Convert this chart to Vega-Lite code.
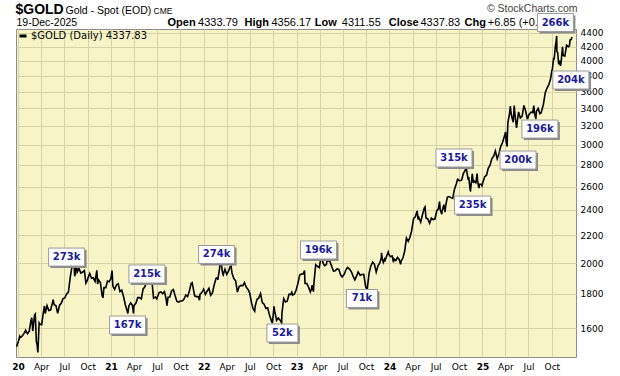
{
  "$schema": "https://vega.github.io/schema/vega-lite/v6.json",
  "width": 560,
  "height": 328,
  "autosize": "none",
  "padding": {"left": 16, "top": 29, "right": 44, "bottom": 19},
  "background": "white",
  "config": {
    "view": {"fill": "#f7f5c8", "stroke": "#8c8c8c", "strokeWidth": 1},
    "font": "DejaVu Sans"
  },
  "datasets": {
    "gold": [
      {"d":"2019-12-26","p":1502},{"d":"2020-01-02","p":1528},{"d":"2020-01-08","p":1556},{"d":"2020-01-10","p":1550},{"d":"2020-01-17","p":1557},{"d":"2020-01-24","p":1571},{"d":"2020-01-31","p":1589},
      {"d":"2020-02-07","p":1570},{"d":"2020-02-14","p":1584},{"d":"2020-02-21","p":1643},{"d":"2020-02-24","p":1659},{"d":"2020-02-28","p":1585},
      {"d":"2020-03-06","p":1674},{"d":"2020-03-09","p":1680},{"d":"2020-03-13","p":1530},{"d":"2020-03-16","p":1513},{"d":"2020-03-19","p":1473},{"d":"2020-03-20","p":1498},{"d":"2020-03-24","p":1630},{"d":"2020-03-27","p":1623},
      {"d":"2020-04-03","p":1620},{"d":"2020-04-09","p":1683},{"d":"2020-04-14","p":1727},{"d":"2020-04-17","p":1683},{"d":"2020-04-24","p":1729},{"d":"2020-05-01","p":1700},
      {"d":"2020-05-08","p":1703},{"d":"2020-05-15","p":1743},{"d":"2020-05-18","p":1765},{"d":"2020-05-22","p":1735},{"d":"2020-05-29","p":1730},
      {"d":"2020-06-05","p":1684},{"d":"2020-06-12","p":1730},{"d":"2020-06-19","p":1743},{"d":"2020-06-26","p":1771},
      {"d":"2020-07-03","p":1775},{"d":"2020-07-10","p":1799},{"d":"2020-07-17","p":1810},{"d":"2020-07-24","p":1902},{"d":"2020-07-31","p":1975},
      {"d":"2020-08-06","p":2063},{"d":"2020-08-07","p":2035},{"d":"2020-08-11","p":1912},{"d":"2020-08-14","p":1944},{"d":"2020-08-18","p":2013},{"d":"2020-08-21","p":1940},{"d":"2020-08-28","p":1964},
      {"d":"2020-09-04","p":1933},{"d":"2020-09-11","p":1940},{"d":"2020-09-18","p":1950},{"d":"2020-09-24","p":1868},{"d":"2020-09-30","p":1887},
      {"d":"2020-10-02","p":1900},{"d":"2020-10-09","p":1930},{"d":"2020-10-16","p":1899},{"d":"2020-10-23","p":1902},{"d":"2020-10-30","p":1879},
      {"d":"2020-11-06","p":1951},{"d":"2020-11-09","p":1862},{"d":"2020-11-13","p":1888},{"d":"2020-11-20","p":1871},{"d":"2020-11-27","p":1788},{"d":"2020-11-30","p":1776},
      {"d":"2020-12-04","p":1839},{"d":"2020-12-11","p":1839},{"d":"2020-12-18","p":1881},{"d":"2020-12-24","p":1877},{"d":"2020-12-31","p":1895},
      {"d":"2021-01-05","p":1950},{"d":"2021-01-08","p":1849},{"d":"2021-01-15","p":1828},{"d":"2021-01-22","p":1856},{"d":"2021-01-29","p":1863},
      {"d":"2021-02-05","p":1814},{"d":"2021-02-12","p":1823},{"d":"2021-02-19","p":1784},{"d":"2021-02-26","p":1734},
      {"d":"2021-03-05","p":1700},{"d":"2021-03-08","p":1683},{"d":"2021-03-12","p":1727},{"d":"2021-03-19","p":1745},{"d":"2021-03-26","p":1732},{"d":"2021-03-30","p":1684},
      {"d":"2021-04-01","p":1728},{"d":"2021-04-09","p":1744},{"d":"2021-04-16","p":1777},{"d":"2021-04-23","p":1777},{"d":"2021-04-30","p":1769},
      {"d":"2021-05-07","p":1831},{"d":"2021-05-14","p":1844},{"d":"2021-05-21","p":1881},{"d":"2021-05-28","p":1905},
      {"d":"2021-06-04","p":1892},{"d":"2021-06-11","p":1877},{"d":"2021-06-17","p":1774},{"d":"2021-06-25","p":1781},{"d":"2021-06-30","p":1770},
      {"d":"2021-07-09","p":1808},{"d":"2021-07-16","p":1812},{"d":"2021-07-23","p":1802},{"d":"2021-07-30","p":1814},
      {"d":"2021-08-06","p":1763},{"d":"2021-08-09","p":1729},{"d":"2021-08-13","p":1780},{"d":"2021-08-20","p":1781},{"d":"2021-08-27","p":1818},
      {"d":"2021-09-03","p":1827},{"d":"2021-09-10","p":1788},{"d":"2021-09-17","p":1754},{"d":"2021-09-24","p":1750},{"d":"2021-09-30","p":1757},
      {"d":"2021-10-08","p":1757},{"d":"2021-10-15","p":1768},{"d":"2021-10-22","p":1793},{"d":"2021-10-29","p":1783},
      {"d":"2021-11-05","p":1818},{"d":"2021-11-12","p":1865},{"d":"2021-11-16","p":1870},{"d":"2021-11-19","p":1845},{"d":"2021-11-26","p":1788},
      {"d":"2021-12-03","p":1783},{"d":"2021-12-10","p":1783},{"d":"2021-12-15","p":1762},{"d":"2021-12-17","p":1798},{"d":"2021-12-24","p":1808},{"d":"2021-12-31","p":1829},
      {"d":"2022-01-07","p":1797},{"d":"2022-01-14","p":1817},{"d":"2022-01-21","p":1835},{"d":"2022-01-28","p":1791},
      {"d":"2022-02-04","p":1807},{"d":"2022-02-11","p":1859},{"d":"2022-02-18","p":1898},{"d":"2022-02-24","p":1903},{"d":"2022-02-25","p":1889},
      {"d":"2022-03-04","p":1966},{"d":"2022-03-08","p":2050},{"d":"2022-03-11","p":1988},{"d":"2022-03-16","p":1929},{"d":"2022-03-18","p":1921},{"d":"2022-03-25","p":1958},
      {"d":"2022-04-01","p":1925},{"d":"2022-04-08","p":1946},{"d":"2022-04-14","p":1974},{"d":"2022-04-18","p":1979},{"d":"2022-04-22","p":1931},{"d":"2022-04-29","p":1897},
      {"d":"2022-05-06","p":1883},{"d":"2022-05-13","p":1811},{"d":"2022-05-20","p":1846},{"d":"2022-05-27","p":1853},
      {"d":"2022-06-03","p":1851},{"d":"2022-06-10","p":1871},{"d":"2022-06-17","p":1840},{"d":"2022-06-24","p":1827},{"d":"2022-06-30","p":1807},
      {"d":"2022-07-08","p":1742},{"d":"2022-07-14","p":1709},{"d":"2022-07-20","p":1696},{"d":"2022-07-22","p":1727},{"d":"2022-07-29","p":1766},
      {"d":"2022-08-05","p":1775},{"d":"2022-08-12","p":1802},{"d":"2022-08-19","p":1747},{"d":"2022-08-26","p":1737},
      {"d":"2022-09-02","p":1712},{"d":"2022-09-09","p":1716},{"d":"2022-09-16","p":1675},{"d":"2022-09-23","p":1644},{"d":"2022-09-27","p":1629},{"d":"2022-09-30","p":1661},
      {"d":"2022-10-04","p":1725},{"d":"2022-10-07","p":1695},{"d":"2022-10-14","p":1644},{"d":"2022-10-21","p":1657},{"d":"2022-10-28","p":1645},
      {"d":"2022-11-03","p":1630},{"d":"2022-11-04","p":1681},{"d":"2022-11-11","p":1771},{"d":"2022-11-18","p":1751},{"d":"2022-11-25","p":1755},
      {"d":"2022-12-02","p":1797},{"d":"2022-12-09","p":1797},{"d":"2022-12-13","p":1810},{"d":"2022-12-16","p":1793},{"d":"2022-12-23","p":1798},{"d":"2022-12-30","p":1824},
      {"d":"2023-01-06","p":1865},{"d":"2023-01-13","p":1920},{"d":"2023-01-20","p":1926},{"d":"2023-01-27","p":1928},{"d":"2023-02-01","p":1950},{"d":"2023-02-03","p":1865},
      {"d":"2023-02-10","p":1865},{"d":"2023-02-17","p":1842},{"d":"2023-02-24","p":1811},{"d":"2023-02-28","p":1827},
      {"d":"2023-03-03","p":1855},{"d":"2023-03-08","p":1814},{"d":"2023-03-10","p":1868},{"d":"2023-03-17","p":1989},{"d":"2023-03-24","p":1978},{"d":"2023-03-31","p":1969},
      {"d":"2023-04-05","p":2021},{"d":"2023-04-13","p":2040},{"d":"2023-04-14","p":2004},{"d":"2023-04-21","p":1983},{"d":"2023-04-28","p":1990},
      {"d":"2023-05-03","p":2039},{"d":"2023-05-05","p":2017},{"d":"2023-05-12","p":2011},{"d":"2023-05-19","p":1977},{"d":"2023-05-26","p":1946},
      {"d":"2023-06-02","p":1948},{"d":"2023-06-09","p":1961},{"d":"2023-06-16","p":1958},{"d":"2023-06-23","p":1921},{"d":"2023-06-29","p":1908},
      {"d":"2023-07-07","p":1925},{"d":"2023-07-14","p":1955},{"d":"2023-07-20","p":1970},{"d":"2023-07-28","p":1959},
      {"d":"2023-08-04","p":1943},{"d":"2023-08-11","p":1913},{"d":"2023-08-18","p":1889},{"d":"2023-08-25","p":1914},{"d":"2023-08-31","p":1940},
      {"d":"2023-09-08","p":1919},{"d":"2023-09-15","p":1924},{"d":"2023-09-22","p":1925},{"d":"2023-09-29","p":1849},
      {"d":"2023-10-05","p":1820},{"d":"2023-10-06","p":1833},{"d":"2023-10-13","p":1932},{"d":"2023-10-20","p":1981},{"d":"2023-10-27","p":2006},
      {"d":"2023-11-03","p":1992},{"d":"2023-11-10","p":1940},{"d":"2023-11-17","p":1981},{"d":"2023-11-24","p":2001},{"d":"2023-11-30","p":2036},
      {"d":"2023-12-01","p":2072},{"d":"2023-12-04","p":2029},{"d":"2023-12-08","p":2004},{"d":"2023-12-13","p":2027},{"d":"2023-12-15","p":2019},{"d":"2023-12-22","p":2053},{"d":"2023-12-27","p":2077},{"d":"2023-12-29","p":2063},
      {"d":"2024-01-05","p":2045},{"d":"2024-01-12","p":2049},{"d":"2024-01-17","p":2006},{"d":"2024-01-19","p":2029},{"d":"2024-01-26","p":2018},
      {"d":"2024-02-02","p":2039},{"d":"2024-02-09","p":2024},{"d":"2024-02-14","p":1992},{"d":"2024-02-16","p":2013},{"d":"2024-02-23","p":2035},
      {"d":"2024-03-01","p":2083},{"d":"2024-03-08","p":2179},{"d":"2024-03-15","p":2155},{"d":"2024-03-21","p":2181},{"d":"2024-03-28","p":2230},
      {"d":"2024-04-05","p":2330},{"d":"2024-04-12","p":2344},{"d":"2024-04-19","p":2392},{"d":"2024-04-23","p":2322},{"d":"2024-04-26","p":2337},
      {"d":"2024-05-03","p":2301},{"d":"2024-05-10","p":2360},{"d":"2024-05-17","p":2415},{"d":"2024-05-20","p":2425},{"d":"2024-05-24","p":2334},{"d":"2024-05-31","p":2327},
      {"d":"2024-06-07","p":2293},{"d":"2024-06-14","p":2333},{"d":"2024-06-21","p":2321},{"d":"2024-06-28","p":2326},
      {"d":"2024-07-05","p":2391},{"d":"2024-07-12","p":2411},{"d":"2024-07-16","p":2469},{"d":"2024-07-19","p":2400},{"d":"2024-07-25","p":2365},{"d":"2024-07-26","p":2387},
      {"d":"2024-08-02","p":2443},{"d":"2024-08-07","p":2382},{"d":"2024-08-09","p":2431},{"d":"2024-08-16","p":2507},{"d":"2024-08-23","p":2512},{"d":"2024-08-30","p":2503},
      {"d":"2024-09-06","p":2497},{"d":"2024-09-13","p":2577},{"d":"2024-09-20","p":2622},{"d":"2024-09-26","p":2672},{"d":"2024-09-27","p":2658},
      {"d":"2024-10-04","p":2653},{"d":"2024-10-11","p":2657},{"d":"2024-10-18","p":2721},{"d":"2024-10-25","p":2747},{"d":"2024-10-30","p":2788},{"d":"2024-10-31","p":2743},
      {"d":"2024-11-06","p":2659},{"d":"2024-11-08","p":2685},{"d":"2024-11-14","p":2565},{"d":"2024-11-15","p":2563},{"d":"2024-11-22","p":2715},{"d":"2024-11-26","p":2633},{"d":"2024-11-29","p":2650},
      {"d":"2024-12-06","p":2633},{"d":"2024-12-11","p":2718},{"d":"2024-12-13","p":2648},{"d":"2024-12-18","p":2586},{"d":"2024-12-20","p":2622},{"d":"2024-12-27","p":2621},{"d":"2024-12-30","p":2606},
      {"d":"2025-01-03","p":2640},{"d":"2025-01-10","p":2689},{"d":"2025-01-17","p":2703},{"d":"2025-01-24","p":2770},{"d":"2025-01-31","p":2798},
      {"d":"2025-02-07","p":2861},{"d":"2025-02-14","p":2883},{"d":"2025-02-21","p":2936},{"d":"2025-02-28","p":2858},
      {"d":"2025-03-07","p":2910},{"d":"2025-03-14","p":2984},{"d":"2025-03-21","p":3023},{"d":"2025-03-28","p":3085},{"d":"2025-04-02","p":3134},
      {"d":"2025-04-04","p":3037},{"d":"2025-04-08","p":2982},{"d":"2025-04-09","p":3083},{"d":"2025-04-11","p":3237},{"d":"2025-04-17","p":3327},{"d":"2025-04-21","p":3424},{"d":"2025-04-22","p":3381},{"d":"2025-04-25","p":3319},
      {"d":"2025-05-02","p":3240},{"d":"2025-05-06","p":3431},{"d":"2025-05-09","p":3325},{"d":"2025-05-15","p":3179},{"d":"2025-05-16","p":3203},{"d":"2025-05-23","p":3357},{"d":"2025-05-30","p":3289},
      {"d":"2025-06-06","p":3310},{"d":"2025-06-13","p":3432},{"d":"2025-06-20","p":3368},{"d":"2025-06-27","p":3274},{"d":"2025-06-30","p":3303},
      {"d":"2025-07-03","p":3326},{"d":"2025-07-11","p":3355},{"d":"2025-07-18","p":3350},{"d":"2025-07-22","p":3431},{"d":"2025-07-25","p":3337},{"d":"2025-07-30","p":3275},
      {"d":"2025-08-01","p":3363},{"d":"2025-08-08","p":3398},{"d":"2025-08-15","p":3336},{"d":"2025-08-20","p":3347},{"d":"2025-08-22","p":3371},{"d":"2025-08-29","p":3448},
      {"d":"2025-09-05","p":3586},{"d":"2025-09-12","p":3643},{"d":"2025-09-19","p":3685},{"d":"2025-09-26","p":3760},{"d":"2025-10-01","p":3866},
      {"d":"2025-10-03","p":3886},{"d":"2025-10-08","p":4040},{"d":"2025-10-10","p":4018},{"d":"2025-10-15","p":4208},{"d":"2025-10-17","p":4251},{"d":"2025-10-20","p":4356},{"d":"2025-10-21","p":4125},{"d":"2025-10-24","p":4112},{"d":"2025-10-28","p":3950},{"d":"2025-10-31","p":4002},
      {"d":"2025-11-04","p":3932},{"d":"2025-11-07","p":4000},{"d":"2025-11-12","p":4195},{"d":"2025-11-14","p":4080},{"d":"2025-11-18","p":4067},{"d":"2025-11-21","p":4065},{"d":"2025-11-28","p":4218},
      {"d":"2025-12-05","p":4198},{"d":"2025-12-09","p":4208},{"d":"2025-12-12","p":4300},{"d":"2025-12-16","p":4303},{"d":"2025-12-19","p":4338}
    ],
    "notes": [
      {"d":"2020-07-10","p":2042,"label":"273k"},
      {"d":"2021-05-22","p":1927,"label":"215k"},
      {"d":"2021-03-07","p":1618,"label":"167k"},
      {"d":"2022-02-20","p":2060,"label":"274k"},
      {"d":"2022-11-06","p":1574,"label":"52k"},
      {"d":"2023-03-28","p":2092,"label":"196k"},
      {"d":"2023-09-15","p":1772,"label":"71k"},
      {"d":"2024-09-11","p":2867,"label":"315k"},
      {"d":"2024-11-23","p":2440,"label":"235k"},
      {"d":"2025-05-21","p":2847,"label":"200k"},
      {"d":"2025-08-15","p":3166,"label":"196k"},
      {"d":"2025-12-15","p":3745,"label":"204k"},
      {"d":"2025-10-15","p":4560,"label":"266k"}
    ]
  },
  "layer": [
    {
      "data": {"name": "gold"},
      "mark": {"type": "line", "strokeWidth": 1.6, "clip": true},
      "encoding": {
        "x": {
          "field": "d", "type": "temporal",
          "scale": {"domain": ["2019-12-24", "2026-01-04"], "nice": false},
          "axis": {
            "orient": "bottom",
            "values": [
              {"year":2020,"month":1,"date":1},{"year":2020,"month":4,"date":1},{"year":2020,"month":7,"date":1},{"year":2020,"month":10,"date":1},
              {"year":2021,"month":1,"date":1},{"year":2021,"month":4,"date":1},{"year":2021,"month":7,"date":1},{"year":2021,"month":10,"date":1},
              {"year":2022,"month":1,"date":1},{"year":2022,"month":4,"date":1},{"year":2022,"month":7,"date":1},{"year":2022,"month":10,"date":1},
              {"year":2023,"month":1,"date":1},{"year":2023,"month":4,"date":1},{"year":2023,"month":7,"date":1},{"year":2023,"month":10,"date":1},
              {"year":2024,"month":1,"date":1},{"year":2024,"month":4,"date":1},{"year":2024,"month":7,"date":1},{"year":2024,"month":10,"date":1},
              {"year":2025,"month":1,"date":1},{"year":2025,"month":4,"date":1},{"year":2025,"month":7,"date":1},{"year":2025,"month":10,"date":1}
            ],
            "labelExpr": "month(datum.value) == 0 ? timeFormat(datum.value, '%y') : timeFormat(datum.value, '%b')",
            "labelFontWeight": {"condition": {"test": "month(datum.value) == 0", "value": "bold"}, "value": "normal"},
            "labelFont": "DejaVu Sans", "labelFontSize": 9, "labelColor": "#000000",
            "labelOverlap": false, "labelFlush": false, "labelBound": false,
            "labelPadding": 5,
            "ticks": false, "domain": false,
            "grid": true, "gridColor": "#d6d3a8", "gridWidth": 1,
            "title": "19-Dec-2025",
            "titleX": 0, "titleY": -332, "titleAlign": "left", "titleBaseline": "alphabetic",
            "titleFont": "Liberation Sans", "titleFontSize": 10.5, "titleFontWeight": "normal", "titleColor": "#000000"
          }
        },
        "y": {
          "field": "p", "type": "quantitative",
          "scale": {"type": "log", "domain": [1450, 4460], "nice": false},
          "axis": {
            "orient": "right",
            "values": [1600,1800,2000,2200,2400,2600,2800,3000,3200,3400,3600,3800,4000,4200,4400],
            "format": "d",
            "labelFont": "DejaVu Sans", "labelFontSize": 9, "labelColor": "#000000",
            "labelPadding": 4, "labelOverlap": false, "labelFlush": false,
            "ticks": false, "domain": false,
            "grid": true, "gridColor": "#d6d3a8", "gridWidth": 1,
            "title": "© StockCharts.com",
            "titleAngle": 0, "titleX": 1, "titleY": -18, "titleAlign": "right", "titleBaseline": "alphabetic",
            "titleFont": "Liberation Sans", "titleFontSize": 10.5, "titleFontWeight": "normal", "titleColor": "#444444"
          }
        },
        "color": {
          "datum": "$GOLD (Daily) 4337.83",
          "scale": {"range": ["#000000"]},
          "legend": {
            "orient": "top-left", "offset": 2, "padding": 0, "title": null,
            "symbolType": "stroke", "symbolSize": 49, "symbolStrokeWidth": 3,
            "labelFont": "DejaVu Sans", "labelFontSize": 10, "labelColor": "#000000", "labelOffset": 3
          }
        }
      }
    },
    {
      "data": {"name": "notes"},
      "mark": {"type": "point", "filled": true, "opacity": 1, "color": "#8a8a8a", "xOffset": 2, "yOffset": 2},
      "encoding": {
        "x": {
          "field": "d", "type": "temporal",
          "axis": {
            "orient": "top", "labels": false, "ticks": false, "domain": false, "grid": false,
            "title": "Open\u00a0\u00a0\u00a0\u00a0\u00a0\u00a0\u00a0\u00a0\u00a0\u00a0\u00a0\u00a0\u00a0\u00a0\u00a0\u00a0High\u00a0\u00a0\u00a0\u00a0\u00a0\u00a0\u00a0\u00a0\u00a0\u00a0\u00a0\u00a0\u00a0\u00a0\u00a0Low\u00a0\u00a0\u00a0\u00a0\u00a0\u00a0\u00a0\u00a0\u00a0\u00a0\u00a0\u00a0\u00a0\u00a0\u00a0\u00a0\u00a0Close\u00a0\u00a0\u00a0\u00a0\u00a0\u00a0\u00a0\u00a0\u00a0\u00a0\u00a0\u00a0\u00a0\u00a0\u00a0Chg",
            "titleX": 151, "titleY": -4, "titleAlign": "left", "titleBaseline": "alphabetic",
            "titleFont": "Liberation Sans", "titleFontSize": 11, "titleFontWeight": "bold", "titleColor": "#000000"
          }
        },
        "y": {
          "field": "p", "type": "quantitative",
          "axis": {
            "orient": "left", "labels": false, "ticks": false, "domain": false, "grid": false,
            "title": "$GOLD",
            "titleAngle": 0, "titleX": -1, "titleY": -16, "titleAlign": "left", "titleBaseline": "alphabetic",
            "titleFont": "Liberation Sans", "titleFontSize": 14, "titleFontWeight": "bold", "titleColor": "#000000"
          }
        },
        "shape": {"condition": {"test": "length(datum.label) <= 3", "value": "M-1,-0.58H1V0.58H-1Z"}, "value": "M-1,-0.5H1V0.5H-1Z"},
        "size": {"condition": {"test": "length(datum.label) <= 3", "value": 961}, "value": 1296}
      }
    },
    {
      "data": {"name": "notes"},
      "mark": {"type": "point", "filled": true, "opacity": 1, "fill": "#ffffff", "stroke": "#9a9a9a", "strokeWidth": 1},
      "encoding": {
        "x": {
          "field": "d", "type": "temporal",
          "axis": {
            "orient": "top", "labels": false, "ticks": false, "domain": false, "grid": false,
            "title": "4333.79\u00a0\u00a0\u00a0\u00a0\u00a0\u00a0\u00a0\u00a0\u00a0\u00a0\u00a04356.17\u00a0\u00a0\u00a0\u00a0\u00a0\u00a0\u00a0\u00a0\u00a0\u00a04311.55\u00a0\u00a0\u00a0\u00a0\u00a0\u00a0\u00a0\u00a0\u00a0\u00a0\u00a0\u00a0\u00a04337.83\u00a0\u00a0\u00a0\u00a0\u00a0\u00a0\u00a0\u00a0\u00a0+6.85 (+0.16%)",
            "titleX": 181.6, "titleY": -4, "titleAlign": "left", "titleBaseline": "alphabetic",
            "titleFont": "Liberation Sans", "titleFontSize": 11, "titleFontWeight": "normal", "titleColor": "#000000"
          }
        },
        "y": {
          "field": "p", "type": "quantitative",
          "axis": {
            "orient": "left", "labels": false, "ticks": false, "domain": false, "grid": false,
            "title": "Gold - Spot (EOD)",
            "titleAngle": 0, "titleX": 49, "titleY": -16, "titleAlign": "left", "titleBaseline": "alphabetic",
            "titleFont": "Liberation Sans", "titleFontSize": 10.5, "titleFontWeight": "normal", "titleColor": "#000000"
          }
        },
        "shape": {"condition": {"test": "length(datum.label) <= 3", "value": "M-1,-0.58H1V0.58H-1Z"}, "value": "M-1,-0.5H1V0.5H-1Z"},
        "size": {"condition": {"test": "length(datum.label) <= 3", "value": 961}, "value": 1296}
      }
    },
    {
      "data": {"name": "notes"},
      "mark": {"type": "text", "font": "DejaVu Sans", "fontSize": 10, "fontWeight": "bold", "color": "#1c1c9a", "baseline": "middle", "align": "center"},
      "encoding": {
        "x": {
          "field": "d", "type": "temporal",
          "axis": {
            "orient": "top", "labels": false, "ticks": false, "domain": false, "grid": false,
            "title": "CME",
            "titleX": 137, "titleY": -16, "titleAlign": "left", "titleBaseline": "alphabetic",
            "titleFont": "Liberation Sans", "titleFontSize": 8.5, "titleFontWeight": "normal", "titleColor": "#000000"
          }
        },
        "y": {"field": "p", "type": "quantitative", "axis": null},
        "text": {"field": "label"}
      }
    }
  ],
  "resolve": {"axis": {"x": "independent", "y": "independent"}}
}
